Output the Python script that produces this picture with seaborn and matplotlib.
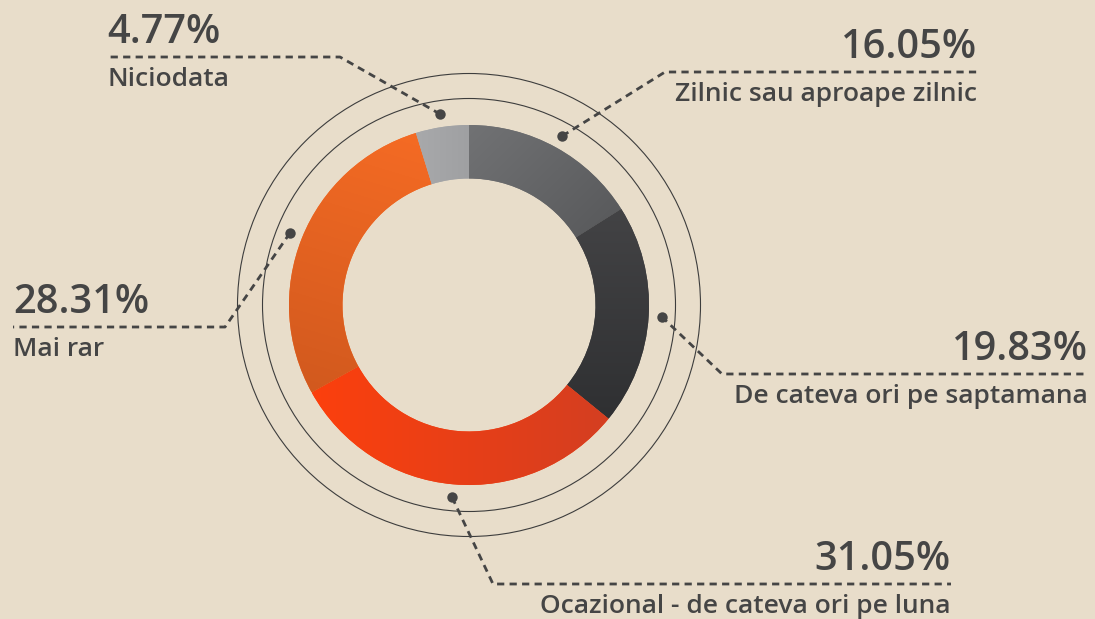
import numpy as np
import matplotlib
matplotlib.use("Agg")
import matplotlib.pyplot as plt
from matplotlib.colors import to_rgb
from matplotlib.patches import Circle
import seaborn as sns

# ---------------- data ----------------
categories = ["Zilnic sau aproape zilnic", "De cateva ori pe saptamana",
              "Ocazional - de cateva ori pe luna", "Mai rar", "Niciodata"]
values = [16.05, 19.83, 31.05, 28.31, 4.77]
pct_labels = ["16.05%", "19.83%", "31.05%", "28.31%", "4.77%"]
grad_start = ["#717274", "#434345", "#fc400d", "#f56b24", "#a8a9ab"]
grad_end = ["#57585a", "#2f3032", "#d43e21", "#d1591e", "#9fa0a2"]

# ---------------- layout (pixel coords, y downward) ----------------
W, H = 1095, 619
CX, CY = 469, 305
R_OUT, R_IN = 180, 126.5
RINGS = [206.5, 231.5]
R_DOT = 193
grad_dirs = [(1, 1), (0, 1), (1, 0), (-0.3, 1), (1, 0)]
# elbow point, end x of horizontal dashed line, text alignment
elbows = [(665, 72), (722, 374), (493, 584), (225, 327), (340, 57)]
line_end_x = [977, 1088, 951, 13, 107]
aligns = ["right", "right", "right", "left", "left"]

BG = "#e8ddca"
TXT = "#454545"

sns.set_theme(style="white", rc={"figure.facecolor": BG, "axes.facecolor": BG})
plt.rcParams["font.family"] = ["Open Sans", "DejaVu Sans"]

fig = plt.figure(figsize=(W / 100, H / 100), dpi=100)
ax = fig.add_axes([0, 0, 1, 1])
ax.set_facecolor(BG)

wedges, _ = ax.pie(values, colors=grad_start, startangle=-90, counterclock=True,
                   radius=R_OUT, center=(CX, CY), frame=True,
                   wedgeprops=dict(width=R_OUT - R_IN, edgecolor="none", linewidth=0))

# gradients clipped to each wedge
for w, c0, c1, d in zip(wedges, grad_start, grad_end, grad_dirs):
    ext = w.get_path().get_extents()
    x0, y0, x1, y1 = ext.x0, ext.y0, ext.x1, ext.y1
    N = 96
    X, Y = np.meshgrid(np.linspace(x0, x1, N), np.linspace(y0, y1, N))
    dv = np.array(d, float) / np.hypot(*d)
    p = X * dv[0] + Y * dv[1]
    t = (p - p.min()) / (p.max() - p.min())
    a, b = np.array(to_rgb(c0)), np.array(to_rgb(c1))
    img = a[None, None, :] + t[..., None] * (b - a)[None, None, :]
    im = ax.imshow(img, extent=(x0, x1, y0, y1), origin="lower",
                   interpolation="bilinear", aspect="auto", zorder=2)
    im.set_clip_path(w)

# thin rings
for r in RINGS:
    ax.add_patch(Circle((CX, CY), r, fill=False, lw=0.8, ec="#3d3d3d", zorder=3))

# leaders, dots, texts
total = sum(values)
cum = 0.0
for i, v in enumerate(values):
    mid = -90 + 360 * (cum + v / 2) / total
    cum += v
    th = np.deg2rad(mid)
    dx, dy = CX + R_DOT * np.cos(th), CY + R_DOT * np.sin(th)
    ex, ey = elbows[i]
    xe = line_end_x[i]
    ax.plot([dx, ex, xe], [dy, ey, ey], color=TXT, lw=2.0,
            dashes=(2.6, 1.9), dash_capstyle="butt", zorder=4)
    ax.plot([dx], [dy], "o", color=TXT, ms=7.5, mew=0, zorder=5)
    ax.text(xe, ey - 14, pct_labels[i], ha=aligns[i], va="baseline",
            fontsize=28.6, fontweight="semibold", color=TXT, zorder=6)
    ax.text(xe, ey + 29, categories[i], ha=aligns[i], va="baseline",
            fontsize=19, fontweight="semibold", color=TXT, zorder=6)

ax.set_xlim(0, W)
ax.set_ylim(H, 0)
ax.axis("off")

fig.savefig("out.png", dpi=100, facecolor=BG)
